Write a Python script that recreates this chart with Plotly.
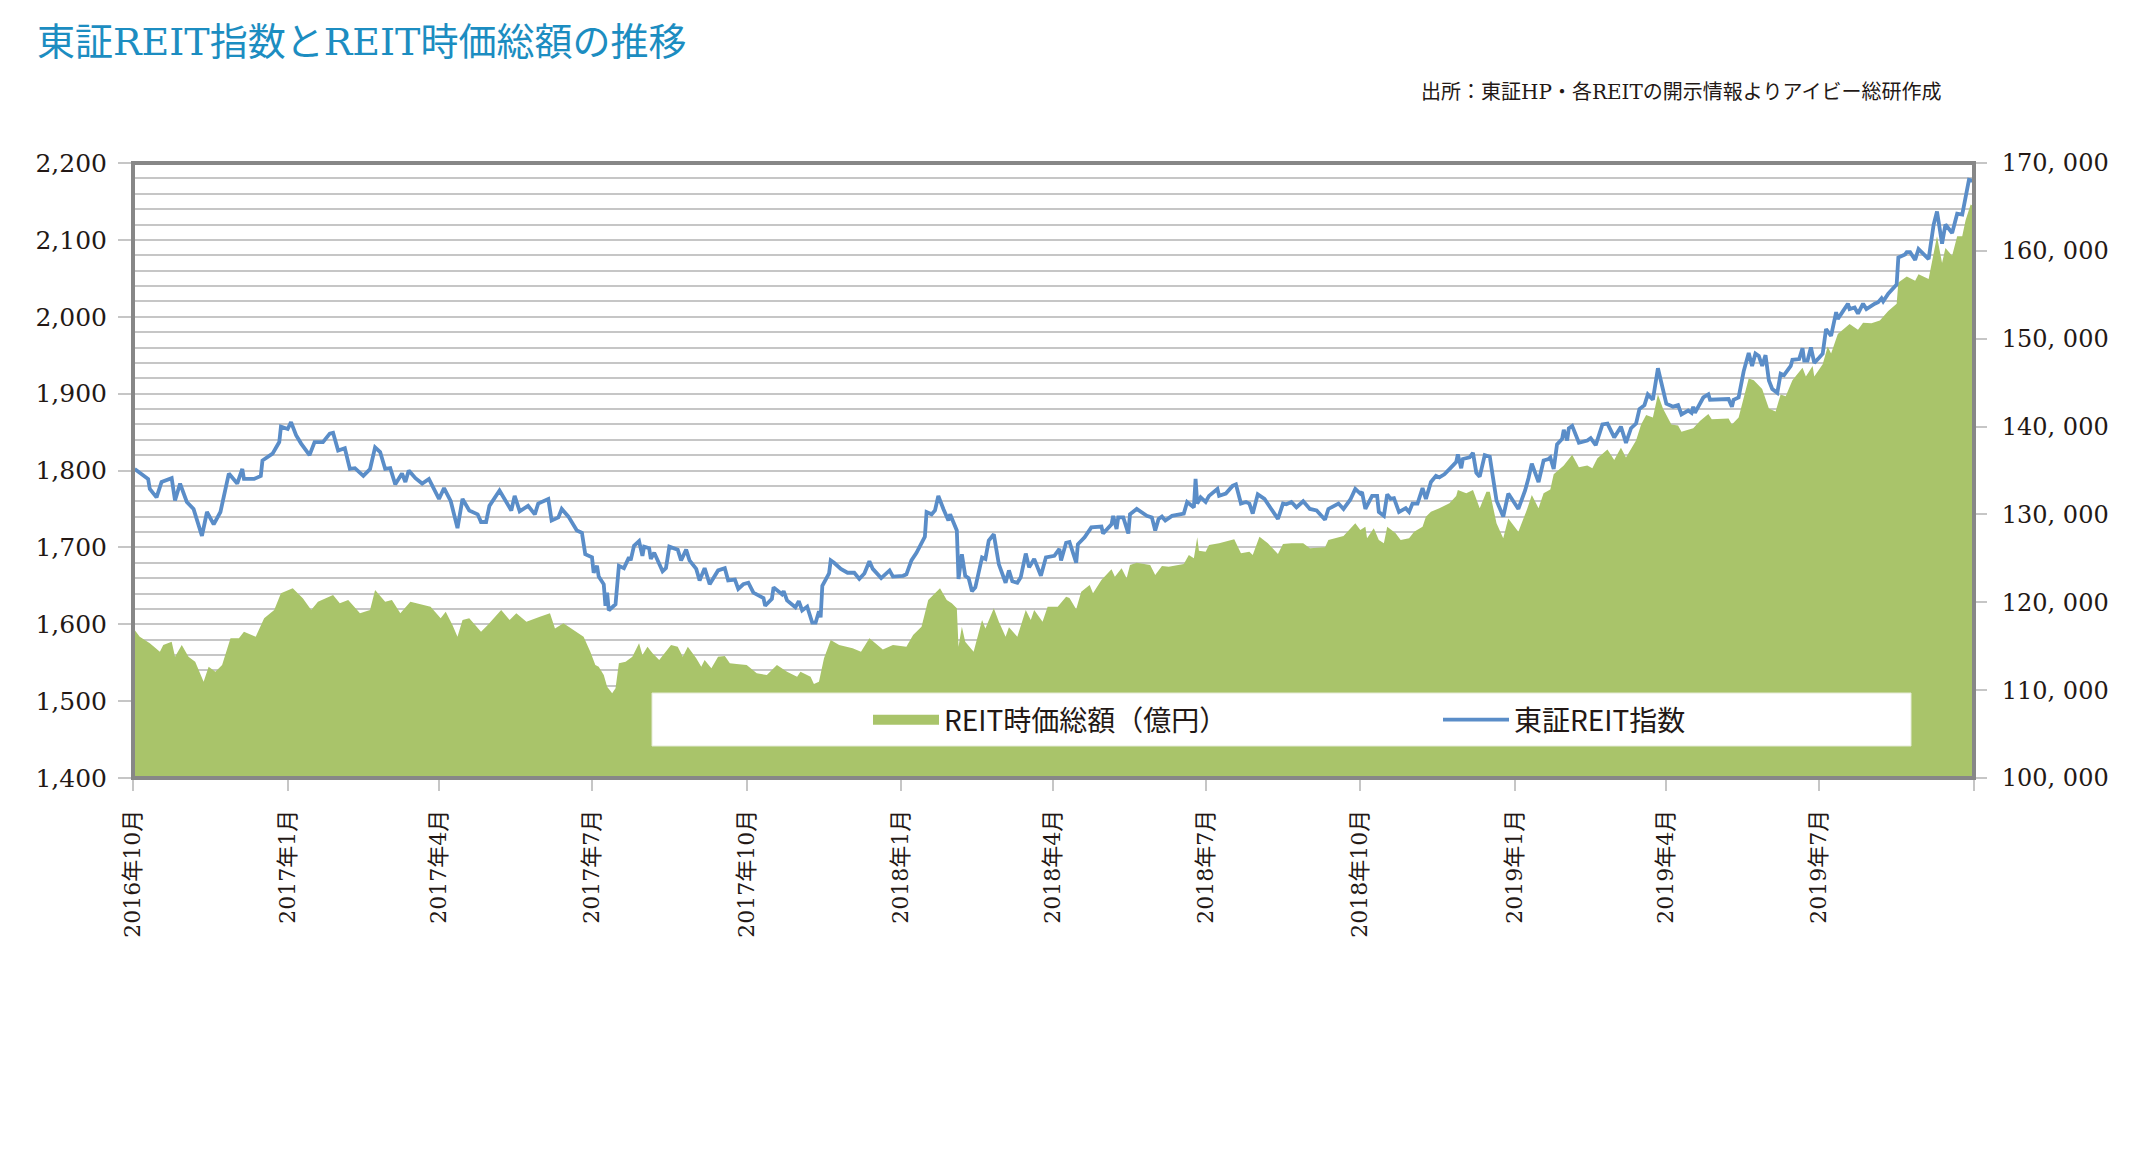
import plotly.graph_objects as go

# ---------------- data ----------------
index_dates = [
    "2016-10-02", "2016-10-07", "2016-10-10", "2016-10-11", "2016-10-15", "2016-10-18", "2016-10-24", "2016-10-26",
    "2016-10-29", "2016-11-02", "2016-11-06", "2016-11-11", "2016-11-14", "2016-11-18", "2016-11-22", "2016-11-27",
    "2016-12-02", "2016-12-05", "2016-12-06", "2016-12-12", "2016-12-16", "2016-12-17", "2016-12-23", "2016-12-27",
    "2016-12-28", "2017-01-01", "2017-01-03", "2017-01-06", "2017-01-09", "2017-01-14", "2017-01-17", "2017-01-22",
    "2017-01-26", "2017-01-28", "2017-01-31", "2017-02-04", "2017-02-07", "2017-02-10", "2017-02-13", "2017-02-15",
    "2017-02-19", "2017-02-22", "2017-02-25", "2017-02-28", "2017-03-03", "2017-03-06", "2017-03-10", "2017-03-12",
    "2017-03-14", "2017-03-18", "2017-03-22", "2017-03-26", "2017-04-01", "2017-04-04", "2017-04-08", "2017-04-12",
    "2017-04-15", "2017-04-19", "2017-04-24", "2017-04-26", "2017-04-29", "2017-05-01", "2017-05-07", "2017-05-11",
    "2017-05-14", "2017-05-16", "2017-05-19", "2017-05-24", "2017-05-28", "2017-05-30", "2017-06-05", "2017-06-07",
    "2017-06-11", "2017-06-13", "2017-06-17", "2017-06-22", "2017-06-25", "2017-06-27", "2017-07-01", "2017-07-02",
    "2017-07-04", "2017-07-05", "2017-07-08", "2017-07-09", "2017-07-10", "2017-07-11", "2017-07-15", "2017-07-17",
    "2017-07-20", "2017-07-23", "2017-07-24", "2017-07-26", "2017-07-29", "2017-07-31", "2017-08-01", "2017-08-04",
    "2017-08-05", "2017-08-07", "2017-08-12", "2017-08-14", "2017-08-16", "2017-08-21", "2017-08-23", "2017-08-26",
    "2017-08-28", "2017-09-01", "2017-09-03", "2017-09-06", "2017-09-09", "2017-09-14", "2017-09-18", "2017-09-20",
    "2017-09-24", "2017-09-26", "2017-09-29", "2017-10-02", "2017-10-05", "2017-10-11", "2017-10-12", "2017-10-16",
    "2017-10-17", "2017-10-22", "2017-10-23", "2017-10-25", "2017-10-30", "2017-11-01", "2017-11-03", "2017-11-06",
    "2017-11-09", "2017-11-11", "2017-11-13", "2017-11-14", "2017-11-15", "2017-11-19", "2017-11-20", "2017-11-22",
    "2017-11-26", "2017-11-30", "2017-12-04", "2017-12-07", "2017-12-10", "2017-12-13", "2017-12-15", "2017-12-20",
    "2017-12-25", "2017-12-27", "2018-01-02", "2018-01-04", "2018-01-07", "2018-01-10", "2018-01-15", "2018-01-16",
    "2018-01-19", "2018-01-21", "2018-01-23", "2018-01-26", "2018-01-29", "2018-01-30", "2018-02-03", "2018-02-04",
    "2018-02-06", "2018-02-08", "2018-02-10", "2018-02-12", "2018-02-14", "2018-02-18", "2018-02-20", "2018-02-22",
    "2018-02-25", "2018-02-28", "2018-03-04", "2018-03-06", "2018-03-08", "2018-03-11", "2018-03-13", "2018-03-16",
    "2018-03-18", "2018-03-21", "2018-03-25", "2018-03-28", "2018-04-02", "2018-04-05", "2018-04-06", "2018-04-09",
    "2018-04-11", "2018-04-15", "2018-04-16", "2018-04-20", "2018-04-24", "2018-04-30", "2018-05-01", "2018-05-06",
    "2018-05-07", "2018-05-09", "2018-05-10", "2018-05-13", "2018-05-16", "2018-05-17", "2018-05-21", "2018-05-27",
    "2018-05-30", "2018-06-01", "2018-06-03", "2018-06-05", "2018-06-07", "2018-06-11", "2018-06-18", "2018-06-20",
    "2018-06-24", "2018-06-25", "2018-06-26", "2018-06-28", "2018-07-01", "2018-07-03", "2018-07-08", "2018-07-09",
    "2018-07-13", "2018-07-17", "2018-07-19", "2018-07-22", "2018-07-25", "2018-07-27", "2018-07-29", "2018-08-01",
    "2018-08-05", "2018-08-09", "2018-08-13", "2018-08-16", "2018-08-18", "2018-08-21", "2018-08-24", "2018-08-28",
    "2018-09-01", "2018-09-05", "2018-09-08", "2018-09-10", "2018-09-12", "2018-09-18", "2018-09-21", "2018-09-25",
    "2018-09-28", "2018-10-01", "2018-10-02", "2018-10-04", "2018-10-08", "2018-10-11", "2018-10-12", "2018-10-15",
    "2018-10-17", "2018-10-19", "2018-10-21", "2018-10-24", "2018-10-28", "2018-10-30", "2018-11-01", "2018-11-04",
    "2018-11-07", "2018-11-09", "2018-11-12", "2018-11-15", "2018-11-17", "2018-11-20", "2018-11-24", "2018-11-27",
    "2018-11-28", "2018-11-30", "2018-12-01", "2018-12-05", "2018-12-07", "2018-12-09", "2018-12-11", "2018-12-14",
    "2018-12-17", "2018-12-21", "2018-12-25", "2018-12-28", "2019-01-03", "2019-01-07", "2019-01-09", "2019-01-11",
    "2019-01-15", "2019-01-18", "2019-01-21", "2019-01-22", "2019-01-24", "2019-01-26", "2019-01-29", "2019-01-30",
    "2019-02-01", "2019-02-02", "2019-02-04", "2019-02-08", "2019-02-13", "2019-02-15", "2019-02-18", "2019-02-20",
    "2019-02-22", "2019-02-25", "2019-03-01", "2019-03-05", "2019-03-08", "2019-03-11", "2019-03-14", "2019-03-16",
    "2019-03-19", "2019-03-21", "2019-03-24", "2019-03-27", "2019-03-30", "2019-04-01", "2019-04-05", "2019-04-08",
    "2019-04-10", "2019-04-14", "2019-04-16", "2019-04-17", "2019-04-18", "2019-04-23", "2019-04-26", "2019-04-27",
    "2019-05-08", "2019-05-10", "2019-05-11", "2019-05-14", "2019-05-17", "2019-05-20", "2019-05-22", "2019-05-24",
    "2019-05-26", "2019-05-28", "2019-05-30", "2019-06-01", "2019-06-03", "2019-06-06", "2019-06-08", "2019-06-10",
    "2019-06-14", "2019-06-15", "2019-06-19", "2019-06-21", "2019-06-22", "2019-06-24", "2019-06-26", "2019-06-28",
    "2019-07-01", "2019-07-03", "2019-07-05", "2019-07-08", "2019-07-11", "2019-07-12", "2019-07-15", "2019-07-18",
    "2019-07-19", "2019-07-22", "2019-07-24", "2019-07-27", "2019-07-29", "2019-08-01", "2019-08-03", "2019-08-05",
    "2019-08-07", "2019-08-08", "2019-08-11", "2019-08-16", "2019-08-17", "2019-08-21", "2019-08-22", "2019-08-24",
    "2019-08-27", "2019-08-29", "2019-09-01", "2019-09-04", "2019-09-07", "2019-09-09", "2019-09-12", "2019-09-14",
    "2019-09-18", "2019-09-21", "2019-09-24", "2019-09-26", "2019-09-28", "2019-09-30",
]
index_values = [
    1802, 1793, 1789, 1776, 1765, 1785, 1790, 1761,
    1783, 1759, 1750, 1715, 1746, 1730, 1746, 1796,
    1783, 1802, 1789, 1789, 1793, 1813, 1822, 1837,
    1857, 1854, 1863, 1846, 1835, 1820, 1837, 1837,
    1848, 1849, 1826, 1829, 1802, 1803, 1796, 1793,
    1802, 1830, 1824, 1802, 1803, 1782, 1796, 1785,
    1800, 1790, 1783, 1789, 1763, 1777, 1760, 1725,
    1763, 1748, 1743, 1733, 1733, 1754, 1774, 1759,
    1748, 1767, 1747, 1754, 1743, 1757, 1763, 1735,
    1739, 1750, 1740, 1722, 1719, 1691, 1687, 1667,
    1676, 1662, 1652, 1624, 1641, 1618, 1626, 1676,
    1673, 1687, 1683, 1702, 1708, 1689, 1701, 1699,
    1685, 1693, 1669, 1673, 1701, 1697, 1683, 1697,
    1683, 1672, 1657, 1673, 1652, 1670, 1673, 1657,
    1658, 1646, 1652, 1654, 1641, 1634, 1624, 1633,
    1648, 1639, 1643, 1631, 1622, 1630, 1618, 1623,
    1602, 1602, 1617, 1609, 1650, 1666, 1683, 1680,
    1672, 1667, 1667, 1659, 1666, 1682, 1672, 1660,
    1670, 1662, 1663, 1665, 1683, 1693, 1714, 1746,
    1743, 1748, 1767, 1750, 1735, 1743, 1722, 1659,
    1691, 1663, 1660, 1643, 1648, 1687, 1685, 1709,
    1717, 1678, 1654, 1670, 1656, 1654, 1661, 1692,
    1674, 1685, 1663, 1687, 1689, 1698, 1683, 1706,
    1707, 1680, 1704, 1713, 1726, 1727, 1718, 1730,
    1741, 1724, 1739, 1739, 1718, 1743, 1750, 1741,
    1739, 1722, 1737, 1740, 1735, 1741, 1744, 1759,
    1752, 1789, 1757, 1765, 1759, 1767, 1776, 1767,
    1770, 1780, 1782, 1757, 1759, 1757, 1744, 1769,
    1763, 1750, 1737, 1757, 1756, 1759, 1752, 1760,
    1750, 1748, 1741, 1736, 1750, 1757, 1750, 1762,
    1776, 1770, 1772, 1750, 1767, 1767, 1746, 1741,
    1769, 1763, 1764, 1746, 1751, 1746, 1757, 1757,
    1777, 1763, 1785, 1793, 1791, 1795, 1804, 1811,
    1821, 1803, 1815, 1817, 1823, 1797, 1792, 1820,
    1818, 1761, 1740, 1770, 1750, 1774, 1790, 1809,
    1785, 1813, 1815, 1817, 1802, 1834, 1841, 1853,
    1839, 1855, 1858, 1836, 1839, 1842, 1833, 1848,
    1860, 1861, 1843, 1857, 1836, 1855, 1861, 1880,
    1885, 1899, 1892, 1933, 1906, 1887, 1883, 1885,
    1873, 1878, 1875, 1883, 1875, 1895, 1899, 1892,
    1893, 1883, 1892, 1895, 1929, 1953, 1936, 1952,
    1949, 1936, 1950, 1917, 1906, 1901, 1926, 1924,
    1936, 1944, 1945, 1959, 1943, 1943, 1960, 1940,
    1947, 1952, 1984, 1975, 2006, 1997, 2007, 2017,
    2010, 2012, 2004, 2017, 2010, 2015, 2017, 2019,
    2024, 2020, 2030, 2042, 2077, 2081, 2084, 2084,
    2074, 2088, 2081, 2075, 2120, 2137, 2095, 2120,
    2109, 2134, 2133, 2157, 2178, 2177,
]

cap_dates = [
    "2016-10-02", "2016-10-05", "2016-10-11", "2016-10-17", "2016-10-19", "2016-10-24", "2016-10-26", "2016-10-30",
    "2016-11-03", "2016-11-07", "2016-11-12", "2016-11-15", "2016-11-19", "2016-11-23", "2016-11-28", "2016-12-03",
    "2016-12-06", "2016-12-13", "2016-12-18", "2016-12-24", "2016-12-28", "2017-01-04", "2017-01-10", "2017-01-15",
    "2017-01-19", "2017-01-28", "2017-02-01", "2017-02-06", "2017-02-13", "2017-02-19", "2017-02-22", "2017-02-28",
    "2017-03-04", "2017-03-09", "2017-03-15", "2017-03-22", "2017-03-27", "2017-04-02", "2017-04-05", "2017-04-09",
    "2017-04-12", "2017-04-15", "2017-04-19", "2017-04-26", "2017-04-30", "2017-05-08", "2017-05-13", "2017-05-17",
    "2017-05-23", "2017-05-31", "2017-06-06", "2017-06-09", "2017-06-14", "2017-06-20", "2017-06-26", "2017-06-30",
    "2017-07-03", "2017-07-05", "2017-07-08", "2017-07-10", "2017-07-13", "2017-07-15", "2017-07-17", "2017-07-21",
    "2017-07-25", "2017-07-29", "2017-07-31", "2017-08-03", "2017-08-06", "2017-08-10", "2017-08-17", "2017-08-21",
    "2017-08-24", "2017-08-27", "2017-09-01", "2017-09-04", "2017-09-06", "2017-09-10", "2017-09-14", "2017-09-18",
    "2017-09-21", "2017-09-25", "2017-10-01", "2017-10-07", "2017-10-13", "2017-10-19", "2017-10-25", "2017-10-31",
    "2017-11-02", "2017-11-08", "2017-11-10", "2017-11-13", "2017-11-16", "2017-11-20", "2017-11-25", "2017-12-03",
    "2017-12-08", "2017-12-13", "2017-12-18", "2017-12-21", "2017-12-27", "2018-01-04", "2018-01-08", "2018-01-13",
    "2018-01-17", "2018-01-24", "2018-01-28", "2018-01-31", "2018-02-03", "2018-02-04", "2018-02-06", "2018-02-08",
    "2018-02-13", "2018-02-18", "2018-02-20", "2018-02-25", "2018-02-28", "2018-03-04", "2018-03-06", "2018-03-11",
    "2018-03-16", "2018-03-19", "2018-03-21", "2018-03-26", "2018-03-29", "2018-04-04", "2018-04-09", "2018-04-11",
    "2018-04-15", "2018-04-18", "2018-04-23", "2018-04-25", "2018-04-30", "2018-05-06", "2018-05-08", "2018-05-12",
    "2018-05-15", "2018-05-17", "2018-05-21", "2018-05-29", "2018-06-01", "2018-06-05", "2018-06-09", "2018-06-18",
    "2018-06-21", "2018-06-24", "2018-06-26", "2018-06-27", "2018-07-01", "2018-07-03", "2018-07-09", "2018-07-18",
    "2018-07-22", "2018-07-27", "2018-07-29", "2018-08-02", "2018-08-07", "2018-08-13", "2018-08-16", "2018-08-21",
    "2018-08-28", "2018-09-01", "2018-09-10", "2018-09-12", "2018-09-21", "2018-09-28", "2018-10-01", "2018-10-04",
    "2018-10-05", "2018-10-09", "2018-10-12", "2018-10-15", "2018-10-17", "2018-10-22", "2018-10-25", "2018-10-30",
    "2018-11-02", "2018-11-07", "2018-11-09", "2018-11-12", "2018-11-17", "2018-11-23", "2018-11-27", "2018-11-28",
    "2018-12-03", "2018-12-07", "2018-12-11", "2018-12-15", "2018-12-17", "2018-12-21", "2018-12-25", "2018-12-28",
    "2019-01-03", "2019-01-08", "2019-01-11", "2019-01-15", "2019-01-18", "2019-01-21", "2019-01-22", "2019-01-24",
    "2019-01-30", "2019-02-04", "2019-02-08", "2019-02-13", "2019-02-16", "2019-02-19", "2019-02-25", "2019-03-01",
    "2019-03-05", "2019-03-08", "2019-03-14", "2019-03-17", "2019-03-20", "2019-03-24", "2019-03-27", "2019-03-30",
    "2019-04-04", "2019-04-08", "2019-04-10", "2019-04-17", "2019-04-21", "2019-04-26", "2019-04-28", "2019-05-08",
    "2019-05-10", "2019-05-14", "2019-05-20", "2019-05-23", "2019-05-28", "2019-06-01", "2019-06-05", "2019-06-08",
    "2019-06-11", "2019-06-15", "2019-06-21", "2019-06-23", "2019-06-27", "2019-06-28", "2019-07-03", "2019-07-06",
    "2019-07-08", "2019-07-12", "2019-07-15", "2019-07-19", "2019-07-24", "2019-07-27", "2019-08-01", "2019-08-06",
    "2019-08-11", "2019-08-16", "2019-08-17", "2019-08-22", "2019-08-27", "2019-08-29", "2019-09-04", "2019-09-07",
    "2019-09-09", "2019-09-12", "2019-09-14", "2019-09-18", "2019-09-21", "2019-09-24", "2019-09-26", "2019-09-29",
    "2019-09-30",
]
cap_values = [
    116840, 116080, 115330, 114380, 115140, 115520, 113800, 115140,
    113800, 113240, 110960, 112670, 112100, 112860, 115900, 115900,
    116650, 116080, 118170, 119120, 121020, 121590, 120450, 119120,
    120070, 120830, 119880, 120260, 118740, 119120, 121400, 120070,
    120260, 118740, 120070, 119690, 119500, 118170, 118930, 117410,
    116080, 117980, 118170, 116650, 117410, 119120, 117980, 118740,
    117790, 118360, 118740, 117030, 117600, 116840, 116080, 114380,
    112860, 112670, 111720, 110400, 109640, 110210, 113050, 113240,
    113810, 115330, 114000, 114950, 114190, 113430, 115140, 114950,
    113810, 114950, 113620, 112670, 113430, 112480, 113810, 113890,
    113050, 112980, 112860, 111910, 111720, 112860, 112100, 111530,
    112100, 111530, 110700, 110960, 113620, 115710, 115140, 114760,
    114380, 115900, 115140, 114640, 115140, 114950, 116280, 117220,
    120260, 121590, 120260, 119880, 119310, 114950, 117220, 115520,
    114380, 117980, 117030, 119310, 117790, 116090, 117150, 116090,
    119120, 117980, 119120, 117790, 119500, 119500, 120640, 120500,
    119200, 121210, 121970, 121020, 122540, 123750, 122920, 123860,
    122730, 124240, 124510, 124240, 123110, 124130, 124050, 124360,
    125380, 125000, 127390, 125880, 125760, 126520, 126710, 127170,
    125570, 125760, 125380, 127470, 126710, 125500, 126630, 126710,
    126710, 126140, 126250, 127090, 127540, 128990, 128230, 128610,
    127280, 128420, 127090, 126710, 128610, 127850, 127090, 127280,
    128040, 128610, 129750, 130310, 130690, 131260, 132100, 132780,
    132400, 132780, 130690, 132590, 132590, 128990, 127280, 129550,
    128040, 130500, 132210, 130690, 132400, 132700, 132830, 134570,
    135580, 136790, 135380, 135580, 135260, 136390, 137400, 136190,
    137600, 136470, 138410, 140230, 141320, 141040, 143660, 142050,
    140230, 140110, 139420, 139820, 140630, 141440, 140830, 140910,
    140230, 141040, 145480, 145280, 144270, 142050, 141720, 143660,
    143460, 145280, 146690, 145690, 146900, 145690, 147100, 149120,
    148310, 150540, 151020, 151670, 151020, 151830, 151750, 152070,
    153160, 153970, 156400, 157080, 156600, 157330, 156800, 159630,
    161650, 158620, 160320, 159430, 161650, 161650, 163470, 165290,
    165170,
]

x_tick_dates = ["2016-10-01", "2017-01-01", "2017-04-01", "2017-07-01", "2017-10-01", "2018-01-01",
                "2018-04-01", "2018-07-01", "2018-10-01", "2019-01-01", "2019-04-01", "2019-07-01", "2019-10-01"]
x_tick_labels = ["2016年10月", "2017年1月", "2017年4月", "2017年7月", "2017年10月", "2018年1月",
                 "2018年4月", "2018年7月", "2018年10月", "2019年1月", "2019年4月", "2019年7月", ""]

left_tick_vals = [1400, 1500, 1600, 1700, 1800, 1900, 2000, 2100, 2200]
right_tick_vals = [100000, 110000, 120000, 130000, 140000, 150000, 160000, 170000]
right_tick_labels = ["100, 000", "110, 000", "120, 000", "130, 000", "140, 000", "150, 000", "160, 000", "170, 000"]

title_text = "東証REIT指数とREIT時価総額の推移"
source_text = "出所：東証HP・各REITの開示情報よりアイビー総研作成"
cap_name = "REIT時価総額（億円）"
index_name = "東証REIT指数"

# ---------------- style ----------------
GREEN = "#A9C46A"
BLUE = "#5A8DC8"
GRID = "#C6C6C6"
FRAME = "#878787"
INK = "#231815"
SERIF = "DejaVu Serif, Noto Sans CJK JP, sans-serif"
SANS = "Noto Sans CJK JP, sans-serif"

fig = go.Figure()

# market-cap area (legend entry shown by a thick-swatch proxy below)
fig.add_trace(go.Scatter(
    x=cap_dates, y=cap_values, name=cap_name, yaxis="y",
    mode="lines", line=dict(width=0, color=GREEN), fill="tozeroy", fillcolor=GREEN,
    showlegend=False, legendgroup="cap", hoverinfo="skip",
))
# legend proxy for the area (block swatch, like the original)
fig.add_trace(go.Scatter(
    x=[None], y=[None], name=cap_name, yaxis="y",
    mode="lines", line=dict(width=16, color=GREEN),
    showlegend=True, legendgroup="cap", hoverinfo="skip",
))
fig.add_trace(go.Scatter(
    x=index_dates, y=index_values, name=index_name, yaxis="y2",
    mode="lines", line=dict(width=3.8, color=BLUE),
    hoverinfo="skip",
))

fig.update_layout(
    width=2130, height=1150,
    margin=dict(l=133, r=156, t=163, b=372, autoexpand=False),
    paper_bgcolor="white", plot_bgcolor="white",
    font=dict(family=SERIF, color=INK),
    title=dict(text=title_text, x=37 / 2130, xanchor="left", xref="container",
               y=1 - 42 / 1150, yanchor="middle", yref="container",
               font=dict(family=SERIF, size=38, color="#1C8DC1")),
    xaxis=dict(
        type="date", range=["2016-10-01", "2019-10-01"],
        tickmode="array", tickvals=x_tick_dates, ticktext=x_tick_labels,
        tickangle=-90, ticks="outside", ticklen=12, tickwidth=2, tickcolor=GRID,
        ticklabelstandoff=10,
        showgrid=False, zeroline=False, showline=False,
        tickfont=dict(family=SERIF, size=22, color=INK),
    ),
    # right axis: REIT market cap (main subplot, drawn below)
    yaxis=dict(
        side="right", range=[100000, 170000],
        tickmode="array", tickvals=right_tick_vals, ticktext=right_tick_labels,
        ticks="outside", ticklen=12, tickwidth=2, tickcolor=GRID,
        ticklabelstandoff=10,
        showgrid=False, zeroline=False, showline=False,
        tickfont=dict(family=SERIF, size=24, color=INK),
    ),
    # left axis: TSE REIT index (overlay, drawn on top)
    yaxis2=dict(
        overlaying="y", side="left", range=[1400, 2200],
        tickmode="array", tickvals=left_tick_vals, tickformat=",d",
        ticks="outside", ticklen=14, tickwidth=2, tickcolor=GRID,
        ticklabelstandoff=6,
        showgrid=True, gridcolor=GRID, gridwidth=2.2,
        minor=dict(dtick=20, tick0=1400, showgrid=True, gridcolor=GRID, gridwidth=2.2, ticks=""),
        zeroline=False, showline=False,
        tickfont=dict(family=SERIF, size=25, color=INK),
    ),
    showlegend=True,
    legend=dict(
        orientation="h", x=(868 - 133) / 1841, xanchor="left",
        y=(778 - 720) / 615, yanchor="middle",
        bgcolor="rgba(0,0,0,0)", borderwidth=0,
        font=dict(family=SANS, size=28, color=INK),
        itemwidth=66, entrywidth=489, traceorder="normal",
    ),
    shapes=[
        dict(type="rect", xref="paper", yref="paper",
             x0=(652 - 133) / 1841, x1=(1911 - 133) / 1841,
             y0=(778 - 746) / 615, y1=(778 - 693) / 615,
             fillcolor="white", line=dict(color="#E4EBD6", width=1), layer="above"),
        dict(type="rect", xref="paper", yref="paper", x0=0, x1=1, y0=0, y1=1,
             fillcolor="rgba(0,0,0,0)", line=dict(color=FRAME, width=4), layer="above"),
    ],
    annotations=[
        dict(text=source_text, xref="paper", yref="paper",
             x=(1943 - 133) / 1841, xanchor="right", y=(778 - 92) / 615, yanchor="middle",
             showarrow=False, font=dict(family=SERIF, size=20, color=INK)),
    ],
)

fig.write_html("out.html", config={"displayModeBar": False},
               post_script="document.body.style.margin='0';")
